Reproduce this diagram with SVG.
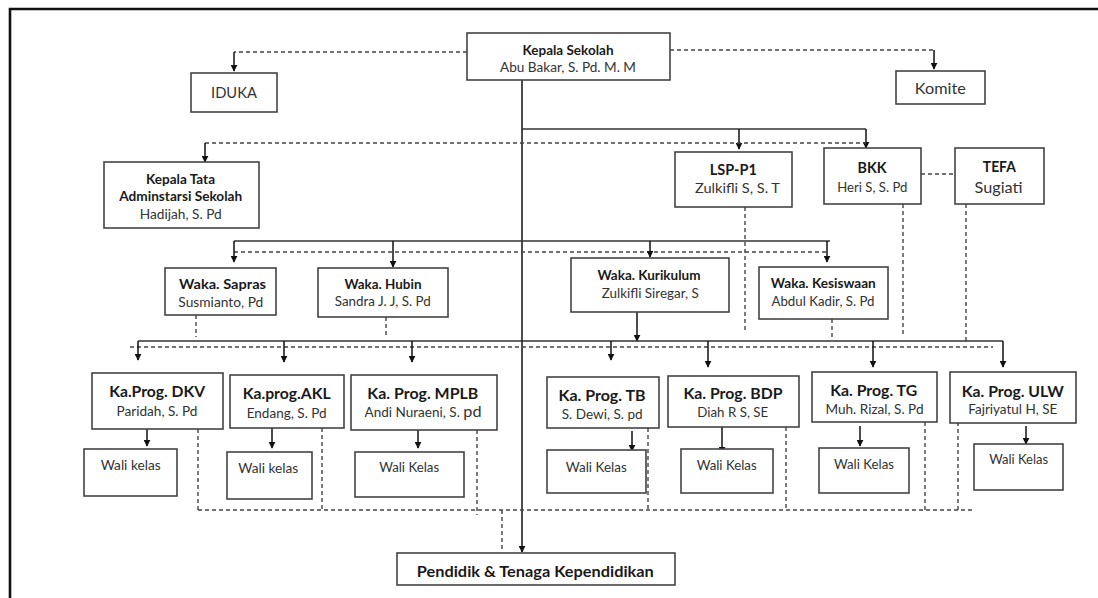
<svg xmlns="http://www.w3.org/2000/svg" width="1098" height="598" viewBox="0 0 1098 598">
<defs>
<marker id="ah" viewBox="0 0 10 10" refX="9" refY="5" markerWidth="7" markerHeight="7" markerUnits="userSpaceOnUse" orient="auto">
<path d="M0,0 L10,5 L0,10 z" fill="#111"/>
</marker>
<style>
.box{fill:#fff;stroke:#444;stroke-width:1.6}
.t{font-family:Lato,"Open Sans",sans-serif;text-anchor:middle;fill:#333}
.b{font-weight:bold;fill:#1a1a1a}
.s{stroke:#333;stroke-width:1.5;fill:none}
.a{stroke:#111;stroke-width:1.5;fill:none;marker-end:url(#ah)}
.d{stroke:#444;stroke-width:1.4;fill:none;stroke-dasharray:4 3}
</style>
</defs>
<rect width="1098" height="598" fill="#fff"/>
<path d="M10,598 V9 H1098" fill="none" stroke="#111" stroke-width="2.6"/>

<g id="connectors">
<path class="d" d="M467,52 H234"/>
<path class="a" d="M234,52 V71"/>
<path class="d" d="M670,50 H934"/>
<path class="a" d="M934,50 V69"/>
<path class="a" d="M522,80 V552"/>
<path class="s" d="M522,129 H866"/>
<path class="a" d="M739,129 V149"/>
<path class="a" d="M866,129 V148"/>
<path class="d" d="M205,143 H866"/>
<path class="a" d="M205,143 V162"/>
<path class="d" d="M921,174 H955"/>
<path class="d" d="M745,207 V333"/>
<path class="d" d="M903,204 V336"/>
<path class="d" d="M966,204 V341"/>
<path class="s" d="M234,241 H830"/>
<path class="d" d="M234,252 H828"/>
<path class="a" d="M234,241 V262"/>
<path class="a" d="M393,241 V267"/>
<path class="a" d="M650,241 V257"/>
<path class="a" d="M827,241 V262"/>
<path class="d" d="M196,315 V337"/>
<path class="d" d="M386,317 V338"/>
<path class="d" d="M832,319 V340"/>
<path class="a" d="M637,312 V341"/>
<path class="s" d="M138,341 H1003"/>
<path class="d" d="M130,347 H993"/>
<path class="a" d="M138,341 V360"/>
<path class="a" d="M284,341 V362"/>
<path class="a" d="M412,341 V362"/>
<path class="a" d="M611,341 V360"/>
<path class="a" d="M708,341 V367"/>
<path class="a" d="M873,341 V367"/>
<path class="a" d="M1003,341 V367"/>
<path class="a" d="M147,429 V446"/>
<path class="a" d="M272,428 V448"/>
<path class="a" d="M418,430 V448"/>
<path class="a" d="M632,431 V451"/>
<path class="a" d="M722,427 V453"/>
<path class="a" d="M860,426 V446"/>
<path class="a" d="M1026,426 V444"/>
<path class="d" d="M198,429 V510 M322,428 V510 M477,430 V515 M648,428 V510 M786,427 V510 M925,422 V510 M958,422 V510"/>
<path class="d" d="M198,510 H972"/>
<path class="d" d="M502,510 V551"/>
</g>

<g id="kepala-sekolah">
<rect class="box" x="467" y="33" width="203" height="47"/>
<text class="t b" x="568" y="54.5" font-size="13" textLength="91" lengthAdjust="spacingAndGlyphs">Kepala Sekolah</text>
<text class="t" x="568" y="72.3" font-size="12.5" textLength="136" lengthAdjust="spacingAndGlyphs">Abu Bakar, S. Pd. M. M</text>
</g>
<g id="iduka">
<rect class="box" x="191" y="73" width="86" height="39"/>
<text class="t" x="234" y="98" font-size="14.5" textLength="46" lengthAdjust="spacingAndGlyphs">IDUKA</text>
</g>
<g id="komite">
<rect class="box" x="896" y="71" width="89" height="33"/>
<text class="t" x="940.3" y="93.5" font-size="14.5" textLength="51" lengthAdjust="spacingAndGlyphs">Komite</text>
</g>
<g id="tata-usaha">
<rect class="box" x="104" y="162" width="155" height="66"/>
<text class="t b" x="180.5" y="183.5" font-size="13" textLength="69" lengthAdjust="spacingAndGlyphs">Kepala Tata</text>
<text class="t b" x="180.7" y="201" font-size="13" textLength="123" lengthAdjust="spacingAndGlyphs">Adminstarsi Sekolah</text>
<text class="t" x="180.8" y="219.3" font-size="12.5" textLength="82" lengthAdjust="spacingAndGlyphs">Hadijah, S. Pd</text>
</g>
<g id="lsp">
<rect class="box" x="675" y="152" width="117" height="55"/>
<text class="t b" x="733.3" y="175" font-size="15" textLength="47" lengthAdjust="spacingAndGlyphs">LSP-P1</text>
<text class="t" x="737.5" y="193.3" font-size="12.5" textLength="85" lengthAdjust="spacingAndGlyphs">Zulkifli S, S. T</text>
</g>
<g id="bkk">
<rect class="box" x="824" y="148" width="97" height="56"/>
<text class="t b" x="872" y="173" font-size="15" textLength="29" lengthAdjust="spacingAndGlyphs">BKK</text>
<text class="t" x="872.3" y="192.3" font-size="12.5" textLength="70" lengthAdjust="spacingAndGlyphs">Heri S, S. Pd</text>
</g>
<g id="tefa">
<rect class="box" x="955" y="148" width="89" height="56"/>
<text class="t b" x="999.3" y="172" font-size="15" textLength="33" lengthAdjust="spacingAndGlyphs">TEFA</text>
<text class="t" x="998.5" y="193" font-size="15" textLength="48" lengthAdjust="spacingAndGlyphs">Sugiati</text>
</g>
<g id="waka-sapras">
<rect class="box" x="165" y="268" width="111" height="47"/>
<text class="t b" x="222.5" y="288.8" font-size="13" textLength="87" lengthAdjust="spacingAndGlyphs">Waka. Sapras</text>
<text class="t" x="220.8" y="307" font-size="12.5" textLength="85" lengthAdjust="spacingAndGlyphs">Susmianto, Pd</text>
</g>
<g id="waka-hubin">
<rect class="box" x="318" y="268" width="130" height="49"/>
<text class="t b" x="383" y="288.5" font-size="13" textLength="77" lengthAdjust="spacingAndGlyphs">Waka. Hubin</text>
<text class="t" x="382.8" y="306.3" font-size="12.5" textLength="96" lengthAdjust="spacingAndGlyphs">Sandra J. J, S. Pd</text>
</g>
<g id="waka-kurikulum">
<rect class="box" x="571" y="258" width="158" height="54"/>
<text class="t b" x="649" y="279.5" font-size="13" textLength="103" lengthAdjust="spacingAndGlyphs">Waka. Kurikulum</text>
<text class="t" x="650.3" y="297.6" font-size="12.5" textLength="97" lengthAdjust="spacingAndGlyphs">Zulkifli Siregar, S</text>
</g>
<g id="waka-kesiswaan">
<rect class="box" x="759" y="267" width="129" height="52"/>
<text class="t b" x="823.3" y="287.8" font-size="13" textLength="105" lengthAdjust="spacingAndGlyphs">Waka. Kesiswaan</text>
<text class="t" x="823" y="306" font-size="12.5" textLength="103" lengthAdjust="spacingAndGlyphs">Abdul Kadir, S. Pd</text>
</g>

<g id="prog-dkv">
<rect class="box" x="92" y="373" width="131" height="56"/>
<text class="t b" x="157.2" y="397.3" font-size="16" textLength="96" lengthAdjust="spacingAndGlyphs">Ka.Prog. DKV</text>
<text class="t" x="157" y="416" font-size="12.5" textLength="81" lengthAdjust="spacingAndGlyphs">Paridah, S. Pd</text>
</g>
<g id="prog-akl">
<rect class="box" x="230" y="375" width="114" height="53"/>
<text class="t b" x="286.7" y="399" font-size="16" textLength="88" lengthAdjust="spacingAndGlyphs">Ka.prog.AKL</text>
<text class="t" x="286.7" y="417.6" font-size="12.5" textLength="80" lengthAdjust="spacingAndGlyphs">Endang, S. Pd</text>
</g>
<g id="prog-mplb">
<rect class="box" x="351" y="375" width="146" height="55"/>
<text class="t b" x="422.8" y="398.6" font-size="16" textLength="111" lengthAdjust="spacingAndGlyphs">Ka. Prog. MPLB</text>
<text class="t" x="423" y="417.3" font-size="12.5" textLength="117" lengthAdjust="spacingAndGlyphs">Andi Nuraeni, S. <tspan font-size="15">pd</tspan></text>
</g>
<g id="prog-tb">
<rect class="box" x="547" y="377" width="112" height="51"/>
<text class="t b" x="602" y="400.6" font-size="16" textLength="87" lengthAdjust="spacingAndGlyphs">Ka. Prog. TB</text>
<text class="t" x="602.2" y="419.3" font-size="12.5" textLength="81" lengthAdjust="spacingAndGlyphs">S. Dewi, S. pd</text>
</g>
<g id="prog-bdp">
<rect class="box" x="668" y="376" width="131" height="51"/>
<text class="t b" x="733" y="398.6" font-size="16" textLength="99" lengthAdjust="spacingAndGlyphs">Ka. Prog. BDP</text>
<text class="t" x="732.8" y="417.3" font-size="12.5" textLength="71" lengthAdjust="spacingAndGlyphs">Diah R S, SE</text>
</g>
<g id="prog-tg">
<rect class="box" x="812" y="372" width="125" height="50"/>
<text class="t b" x="873.7" y="395.6" font-size="16" textLength="87" lengthAdjust="spacingAndGlyphs">Ka. Prog. TG</text>
<text class="t" x="874.5" y="414.3" font-size="12.5" textLength="98" lengthAdjust="spacingAndGlyphs">Muh. Rizal, S. Pd</text>
</g>
<g id="prog-ulw">
<rect class="box" x="950" y="372" width="126" height="51"/>
<text class="t b" x="1012.8" y="396.6" font-size="16" textLength="102" lengthAdjust="spacingAndGlyphs">Ka. Prog. ULW</text>
<text class="t" x="1012.8" y="414.3" font-size="12.5" textLength="89" lengthAdjust="spacingAndGlyphs">Fajriyatul H, SE</text>
</g>

<g id="wali-dkv">
<rect class="box" x="84" y="449" width="93" height="47"/>
<text class="t" x="130.7" y="470.3" font-size="12.5" textLength="60" lengthAdjust="spacingAndGlyphs">Wali kelas</text>
</g>
<g id="wali-akl">
<rect class="box" x="227" y="452" width="85" height="47"/>
<text class="t" x="268.3" y="472.6" font-size="12.5" textLength="60" lengthAdjust="spacingAndGlyphs">Wali kelas</text>
</g>
<g id="wali-mplb">
<rect class="box" x="355" y="452" width="109" height="45"/>
<text class="t" x="409.2" y="472.3" font-size="12.5" textLength="60" lengthAdjust="spacingAndGlyphs">Wali Kelas</text>
</g>
<g id="wali-tb">
<rect class="box" x="547" y="450" width="99" height="43"/>
<text class="t" x="596.3" y="471.6" font-size="12.5" textLength="61" lengthAdjust="spacingAndGlyphs">Wali Kelas</text>
</g>
<g id="wali-bdp">
<rect class="box" x="681" y="449" width="92" height="44"/>
<text class="t" x="726.7" y="470.3" font-size="12.5" textLength="60" lengthAdjust="spacingAndGlyphs">Wali Kelas</text>
</g>
<g id="wali-tg">
<rect class="box" x="819" y="448" width="90" height="45"/>
<text class="t" x="864" y="469.3" font-size="12.5" textLength="60" lengthAdjust="spacingAndGlyphs">Wali Kelas</text>
</g>
<g id="wali-ulw">
<rect class="box" x="974" y="444" width="89" height="46"/>
<text class="t" x="1018.7" y="464.3" font-size="12.5" textLength="59" lengthAdjust="spacingAndGlyphs">Wali Kelas</text>
</g>

<g id="pendidik">
<rect class="box" x="397" y="553" width="278" height="32"/>
<text class="t b" x="535.3" y="577" font-size="15.5" textLength="237" lengthAdjust="spacingAndGlyphs">Pendidik &amp; Tenaga Kependidikan</text>
</g>
</svg>
